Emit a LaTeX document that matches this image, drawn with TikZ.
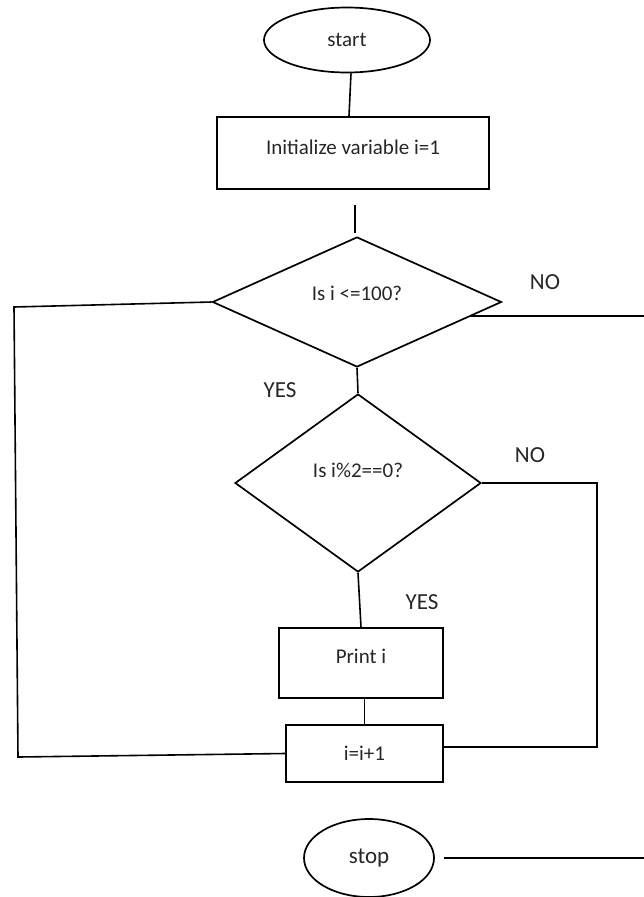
\documentclass[tikz,border=0pt]{standalone}
\usepackage{fontspec}
\setmainfont{Carlito}
\usetikzlibrary{shapes.geometric,calc}
\tikzset{
  base/.style={draw=black, line width=1.7pt, inner sep=0pt, font=\fontsize{21}{25}\selectfont, text=black!85},
  terminal/.style={base, ellipse},
  procbox/.style={base, rectangle},
  decision/.style={base, diamond},
  intext/.style={font=\fontsize{21}{25}\selectfont, text=black!85, inner sep=0pt},
  conn/.style={draw=black, line width=1.6pt},
  lbl/.style={font=\fontsize{23}{27}\selectfont, text=black!85}
}
\begin{document}
\begin{tikzpicture}[x=1pt,y=-1pt]
\useasboundingbox (0,0) rectangle (644,897);
% nodes
\node[terminal, minimum width=166pt, minimum height=65pt] (start) at (347,40) {start};
\node[procbox, minimum width=272pt, minimum height=72pt,
      label={[intext,yshift=6pt]center:Initialize variable i=1}] (init) at (353,153) {};
\coordinate (s1) at (355,205);
\coordinate (s2) at (355,233);
\node[decision, minimum width=289pt, minimum height=130pt,
      label={[intext,yshift=9pt]center:Is i <=100?}] (d1) at (357,302) {};
\node[decision, minimum width=246pt, minimum height=178pt,
      label={[intext,yshift=13pt]center:Is i\%2==0?}] (d2) at (358,483) {};
\node[procbox, minimum width=164pt, minimum height=70pt,
      label={[intext,yshift=7pt]center:Print i}] (print) at (361,663) {};
\node[procbox, minimum width=157pt, minimum height=57pt] (inc) at (364.5,753.5) {i=i+1};
\node[terminal, minimum width=130pt, minimum height=78pt, font=\fontsize{23}{27}\selectfont] (stop) at (369,858) {stop};
% labels
\node[lbl] (no1) at (545,282) {NO};
\node[lbl] (yes1) at (280,390) {YES};
\node[lbl] (no2) at (530,455) {NO};
\node[lbl] (yes2) at (422,602) {YES};
% connectors
\draw[conn] ([xshift=4pt]start.south) -- ([xshift=-4pt]init.north);
\draw[conn] (s1) -- (s2);
\draw[conn] (d1.south) -- (d2.north);
\draw[conn] (d2.south) -- (print.north);
\draw[conn] (inc.north |- print.south) -- (inc.north);
\coordinate (L1) at (14,307);
\coordinate (L2) at (18,757);
\draw[conn] (d1.west) -- (L1) -- (L2) -- (inc.west);
\coordinate (d1p) at ($(d1.east)!0.215!(d1.south)$);
\coordinate (n1) at (644,316);
\draw[conn] (d1p) -- (d1p -| n1);
\coordinate (R2) at (597,747);
\draw[conn] (d2.east) -- (d2.east -| R2) -- (R2) -- (R2 -| inc.east);
\coordinate (e1) at (644,858);
\draw[conn] ([xshift=9pt]stop.east) -- (e1);
\end{tikzpicture}
\end{document}
